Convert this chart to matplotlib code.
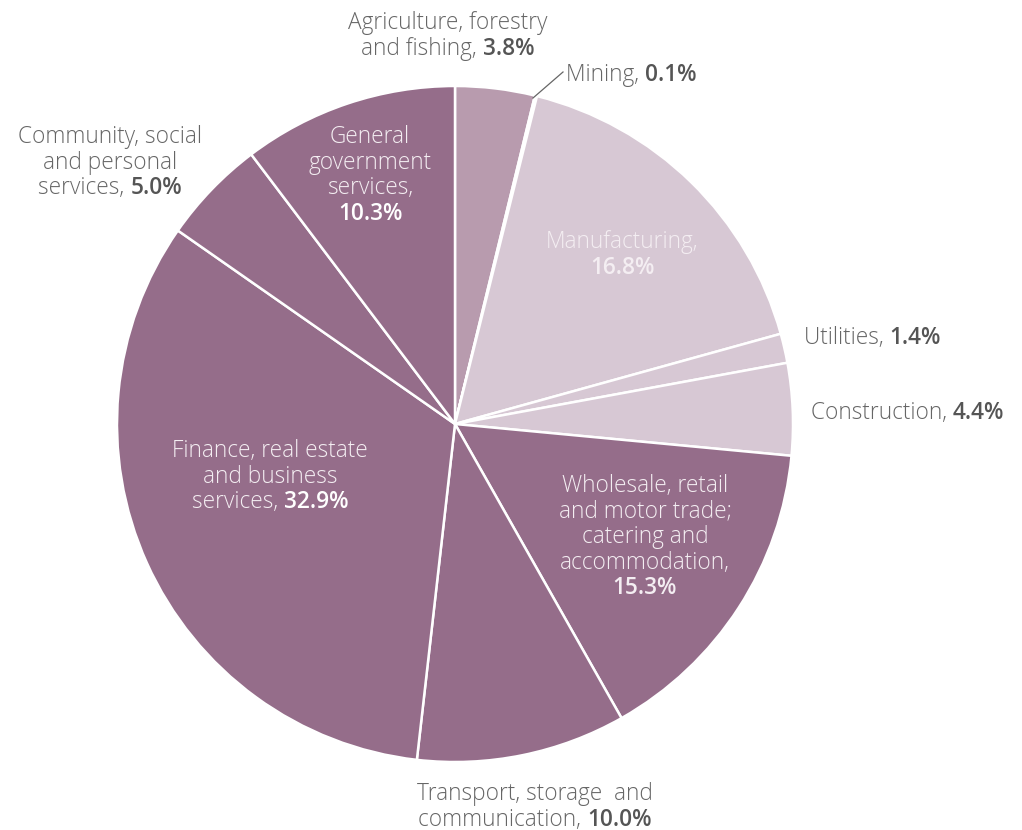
import matplotlib
matplotlib.use("Agg")
import matplotlib.pyplot as plt
from matplotlib.font_manager import FontProperties

sectors = ["Agriculture, forestry and fishing", "Mining", "Manufacturing", "Utilities",
           "Construction", "Wholesale, retail and motor trade; catering and accommodation",
           "Transport, storage and communication", "Finance, real estate and business services",
           "Community, social and personal services", "General government services"]
shares = [3.8, 0.1, 16.8, 1.4, 4.4, 15.3, 10.0, 32.9, 5.0, 10.3]

dark = "#956d8a"
light = "#d7c8d4"
mid = "#b89bae"
colors = [mid, light, light, light, light, dark, dark, dark, dark, dark]

# label lines: text before the bold value, anchor, line positions
labels = [
    (["Agriculture, forestry", "and fishing, "], 448, 23, "center", "#666666", "#555555"),
    (["Mining, "], 566, 75, "left", "#666666", "#555555"),
    (["Manufacturing,", ""], 622, 242, "center", "#f4eef2", "#f4eef2"),
    (["Utilities, "], 804, 338, "left", "#666666", "#555555"),
    (["Construction, "], 811, 413, "left", "#666666", "#555555"),
    (["Wholesale, retail", "and motor trade;", "catering and", "accommodation,", ""], 645, 486, "center", "#f4eef2", "#f4eef2"),
    (["Transport, storage  and", "communication, "], 535, 794, "center", "#666666", "#555555"),
    (["Finance, real estate", "and business", "services, "], 270, 451, "center", "#f4eef2", "#ffffff"),
    (["Community, social", "and personal", "services, "], 110, 137, "center", "#666666", "#555555"),
    (["General", "government", "services,", ""], 370, 137, "center", "#f4eef2", "#ffffff"),
]

W, H = 1022, 830
fig = plt.figure(figsize=(W / 100, H / 100), dpi=100)
ax = fig.add_axes([0, 0, 1, 1])

cx, cy, r = 455, 424, 338
# y axis runs downward, so a start of -90 is the top and counterclock turns clockwise on screen
wedges, _ = ax.pie(shares, colors=colors, startangle=-90, counterclock=True,
                   center=(cx, cy), radius=r, frame=True,
                   wedgeprops=dict(edgecolor="white", linewidth=1.8))
ax.set_xlim(0, W)
ax.set_ylim(H, 0)
ax.set_aspect("equal")
ax.axis("off")

# leader line for the thin Mining slice
ax.plot([533, 563], [98, 72], color="#666666", lw=0.9)

thin = FontProperties(family=["Open Sans", "DejaVu Sans"], weight="light", size=16.3)
bold = FontProperties(family=["Open Sans", "DejaVu Sans"], weight="semibold", size=16.3)
renderer = fig.canvas.get_renderer()


def text_width(s, fp):
    if not s:
        return 0.0
    t = ax.text(0, 0, s, fontproperties=fp)
    w = t.get_window_extent(renderer).width
    t.remove()
    return w


space_w = text_width("a a", thin) - text_width("aa", thin)
line_h = 25.6
for (lines, x, y0, ha, col, bcol), val in zip(labels, shares):
    for i, line in enumerate(lines):
        y = y0 + i * line_h
        last = i == len(lines) - 1
        value = f"{val:.1f}%" if last else ""
        w1 = text_width(line.rstrip(), thin)
        if line.endswith(" "):
            w1 += space_w
        w2 = text_width(value, bold)
        start = x - (w1 + w2) / 2 if ha == "center" else x
        ax.text(start, y, line, fontproperties=thin, color=col, ha="left", va="center")
        if value:
            ax.text(start + w1, y, value, fontproperties=bold, color=bcol, ha="left", va="center")

fig.savefig("out.png", dpi=100)
